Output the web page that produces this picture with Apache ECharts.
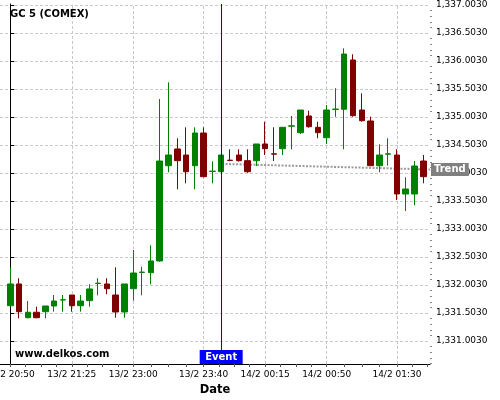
<!DOCTYPE html>
<html><head><meta charset="utf-8">
<script src="https://cdn.jsdelivr.net/npm/echarts@6/dist/echarts.min.js"></script>
<style>html,body{margin:0;padding:0;background:#fff}#c{width:500px;height:400px}</style>
</head><body><div id="c"></div>
<script>
const xLabels = ['13/2 20:50','13/2 21:25','13/2 23:00','13/2 23:40','14/2 00:15','14/2 00:50','14/2 01:30'];
const xLabelIdx = [0, 7, 14, 22, 29, 36, 44];
const open = [1331.633,1332.021,1331.419,1331.516,1331.526,1331.628,1331.735,1331.824,1331.633,1331.723,
  1332.030,1332.021,1331.824,1331.521,1331.937,1332.228,1332.223,1332.432,1334.133,1334.432,
  1334.324,1334.133,1334.717,1334.031,1334.026,1334.232,1334.324,1334.223,1334.223,1334.521,
  1334.345,1334.437,1334.840,1334.723,1335.021,1334.819,1334.633,1335.139,1335.141,1336.021,
  1335.128,1334.932,1334.133,1334.340,1334.324,1333.628,1333.628,1334.217];
const close = [1332.021,1331.526,1331.516,1331.419,1331.628,1331.717,1331.740,1331.633,1331.717,1331.932,
  1332.035,1331.937,1331.521,1332.021,1332.217,1332.233,1332.432,1334.217,1334.324,1334.223,
  1334.026,1334.717,1333.937,1334.036,1334.324,1334.227,1334.223,1334.026,1334.521,1334.437,
  1334.340,1334.819,1334.845,1335.128,1334.830,1334.723,1335.128,1335.144,1336.128,1335.026,
  1334.937,1334.133,1334.324,1334.345,1333.628,1333.717,1334.128,1333.937];
const low = [1331.615,1331.408,1331.408,1331.408,1331.408,1331.526,1331.526,1331.526,1331.526,1331.615,
  1331.819,1331.837,1331.419,1331.419,1331.723,1331.819,1332.016,1332.419,1334.016,1333.712,
  1333.819,1333.712,1333.926,1333.819,1334.026,1334.212,1334.205,1334.008,1334.128,1334.324,
  1334.217,1334.324,1334.426,1334.699,1334.812,1334.623,1334.521,1335.008,1334.426,1335.008,
  1334.919,1334.133,1334.016,1334.133,1333.521,1333.324,1333.426,1333.819];
const high = [1332.319,1332.123,1331.717,1331.615,1331.628,1331.824,1331.824,1331.824,1331.824,1332.016,
  1332.123,1332.123,1332.319,1332.021,1332.628,1332.330,1332.712,1335.324,1335.623,1334.623,
  1334.819,1334.819,1334.819,1334.212,1334.324,1334.426,1334.426,1334.426,1334.521,1334.919,
  1334.819,1334.819,1335.021,1335.128,1335.116,1334.919,1335.217,1335.516,1336.230,1336.123,
  1335.426,1335.008,1334.516,1334.623,1334.426,1333.926,1334.217,1334.324];
const yTicks = [1331.003,1331.503,1332.003,1332.503,1333.003,1333.503,1334.003,1334.503,1335.003,1335.503,1336.003,1336.503,1337.003];
const eventIdx = 24;
const eventLabel = 'Event';
const trendX = [24.5, 47.76];
const trendY = [1334.164, 1334.066];
const trendLabel = 'Trend';
const title = 'GC 5 (COMEX)';
const watermark = 'www.delkos.com';
const xName = 'Date';

// layout
const X_MIN = -1.172, X_MAX = 47.764;
const Y_MIN = 1330.592, Y_MAX = 1337.021;
const FONT = 'DejaVu Sans';
const GRID_LINE = {color: '#c8c8c8', type: [3, 2], width: 1};

// x ticks: quarter subdivisions between labelled positions
const xTickVals = [];
for (let k = 0; k < xLabelIdx.length - 1; k++) {
  const a = xLabelIdx[k], b = xLabelIdx[k+1];
  for (let q = 0; q < 4; q++) xTickVals.push(a + (b - a) * q / 4);
}
const lastL = xLabelIdx[xLabelIdx.length - 1];
for (let v = lastL; v <= X_MAX; v += 1.75) xTickVals.push(v);

// y minor ticks every 0.1
const yMinor = [];
for (let k = -5; k <= (yTicks.length - 1) * 5 + 1; k++) {
  const v = +(yTicks[0] + k * 0.1).toFixed(3);
  if (v > Y_MIN && v < Y_MAX && k % 5 !== 0) yMinor.push(v);
}

const candleData = open.map((o, i) => [i, o, close[i], low[i], high[i]]);
const labelMap = {};
xLabelIdx.forEach((v, i) => { labelMap[v] = xLabels[i]; });

const chart = echarts.init(document.getElementById('c'), null, {renderer: 'canvas'});
chart.setOption({
  animation: false,
  textStyle: {fontFamily: FONT},
  title: [
    {text: title, left: 10, top: 9, padding: 0, textStyle: {fontSize: 10, fontWeight: 'bold', color: '#000', fontFamily: FONT}},
    {text: watermark, left: 15, top: 349, padding: 0, textStyle: {fontSize: 10, fontWeight: 'bold', color: '#000', fontFamily: FONT}}
  ],
  grid: {left: 0, right: 70, top: 4, bottom: 36, containLabel: false, outerBoundsMode: 'none'},
  xAxis: [
    {
      type: 'value', min: X_MIN, max: X_MAX, position: 'bottom',
      name: xName, nameLocation: 'middle', nameGap: 19,
      nameTextStyle: {fontSize: 11.5, fontWeight: 'bold', color: '#000', fontFamily: FONT},
      axisLine: {show: true, onZero: false, lineStyle: {color: '#000', width: 1}},
      axisTick: {show: true, customValues: xTickVals, length: 3, lineStyle: {color: '#555'}},
      axisLabel: {show: true, customValues: xLabelIdx, formatter: v => labelMap[Math.round(v)] || '',
        fontSize: 9, color: '#000', margin: 6, fontFamily: FONT, hideOverlap: false},
      splitLine: {show: false}
    }
  ],
  yAxis: [
    {
      type: 'value', min: Y_MIN, max: Y_MAX, position: 'right',
      axisLine: {show: true, lineStyle: {color: '#000', width: 1}},
      axisTick: {show: true, customValues: yTicks, length: 4, lineStyle: {color: '#000'}},
      axisLabel: {show: true, customValues: yTicks, fontSize: 9, color: '#000', margin: 6, fontFamily: FONT,
        formatter: v => v.toLocaleString('en-US', {minimumFractionDigits: 4, maximumFractionDigits: 4})},
      splitLine: {show: false}
    },
    {
      type: 'value', min: Y_MIN, max: Y_MAX, position: 'right',
      axisLine: {show: false}, axisLabel: {show: false},
      axisTick: {show: true, customValues: yMinor, length: 2, lineStyle: {color: '#888'}},
      splitLine: {show: false}
    }
  ],
  series: [
    {
      type: 'line', xAxisIndex: 0, yAxisIndex: 0, z: 1, silent: true,
      data: trendX.map((x, i) => [x, trendY[i]]),
      symbol: 'none',
      lineStyle: {color: '#9a9a9a', width: 2, type: [2, 1.5]},
      endLabel: {show: true, formatter: trendLabel, distance: 1, color: '#fff', fontWeight: 'bold',
        fontSize: 10, fontFamily: FONT, backgroundColor: '#808080', padding: [2, 3, 1, 3]},
      markLine: {
        silent: true, symbol: ['none', 'none'], label: {show: false}, z: 0,
        lineStyle: GRID_LINE,
        data: xLabelIdx.map(v => ({xAxis: v})).concat(yTicks.map(v => ({yAxis: v})))
      }
    },
    {
      type: 'candlestick', xAxisIndex: 0, yAxisIndex: 0, z: 2,
      data: candleData,
      encode: {x: 0, y: [1, 2, 3, 4]},
      barWidth: 6,
      itemStyle: {color: '#008000', color0: '#800000', borderColor: '#008000', borderColor0: '#800000', borderWidth: 1},
      markLine: {
        silent: true, symbol: ['none', 'none'], label: {show: false}, z: 5,
        lineStyle: {color: '#0000ff', width: 1, type: 'solid'},
        data: [{xAxis: eventIdx}]
      },
      markPoint: {
        silent: true, symbol: 'rect', symbolSize: [43, 14], symbolOffset: [0, -7],
        itemStyle: {color: '#0000ff'},
        label: {show: true, formatter: eventLabel, color: '#fff', fontWeight: 'bold', fontSize: 10, fontFamily: FONT},
        data: [{coord: [eventIdx, Y_MIN], value: 0}]
      }
    }
  ]
});
</script></body></html>
